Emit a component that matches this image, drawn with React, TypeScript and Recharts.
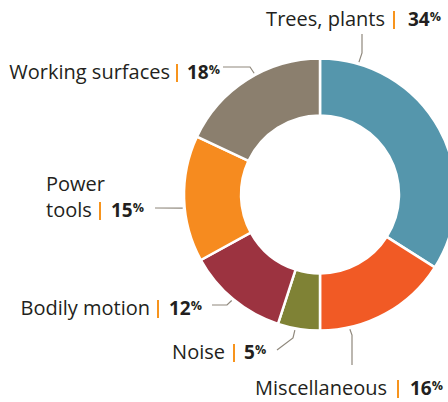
import React from 'react';
import { PieChart, Pie, Cell } from 'recharts';

const CATEGORIES = ['Trees, plants', 'Miscellaneous', 'Noise', 'Bodily motion', 'Power tools', 'Working surfaces'];
const SHARES = [34, 16, 5, 12, 15, 18];
const COLORS = ['#5596ac', '#f15a25', '#7f8235', '#9c3340', '#f68b1f', '#8b7f6e'];

const data = CATEGORIES.map((name, i) => ({ name, value: SHARES[i] }));

const CX = 320;
const CY = 194.5;
const FONT = '"Open Sans", sans-serif';
const TEXT = '#231f20';
const LEADER = '#8f887c';
const BAR = '#f7941d';

// label layout, offsets relative to the pie centre
type Layout = {
  angle: number;
  pts: [number, number][];
  lines: string[];
  nameX: number;
  nameAnchor: 'start' | 'end';
  bar: number;
  num: number;
  base: number;
};
const LABEL_LAYOUT: Layout[] = [
  { angle: 73.6, pts: [[42, -141.5], [42, -160.5]], lines: ['Trees, plants'], nameX: 65, nameAnchor: 'end', bar: 74, num: 88, base: -168.5 },
  { angle: 282.5, pts: [[32, 140.5], [32, 170.5]], lines: ['Miscellaneous'], nameX: 67, nameAnchor: 'end', bar: 78, num: 90, base: 200.5 },
  { angle: 259.5, pts: [[-27, 143.5], [-43, 155.5]], lines: ['Noise'], nameX: -95, nameAnchor: 'end', bar: -86, num: -76, base: 164.5 },
  { angle: 230.2, pts: [[-93, 110.5], [-108, 110.5]], lines: ['Bodily motion'], nameX: -170, nameAnchor: 'end', bar: -162, num: -151, base: 120.5 },
  { angle: 185.7, pts: [[-165, 13.5]], lines: ['Power', 'tools'], nameX: -274, nameAnchor: 'start', bar: -220, num: -209, base: 22.5 },
  { angle: 118.5, pts: [[-70, -127.5], [-97, -127.5]], lines: ['Working surfaces'], nameX: -150, nameAnchor: 'end', bar: -143, num: -133, base: -115.5 },
];

const LINE_GAP = 26;

const renderLabel = (props: any) => {
  const { index, outerRadius } = props;
  const cx = typeof props.cx === 'number' ? props.cx : CX;
  const cy = typeof props.cy === 'number' ? props.cy : CY;
  const L = LABEL_LAYOUT[index];
  const r = (outerRadius ?? 135) + 2;
  const rad = (L.angle * Math.PI) / 180;
  const sx = cx + r * Math.cos(rad);
  const sy = cy - r * Math.sin(rad);
  const d = `M${sx},${sy}` + L.pts.map(([x, y]) => ` L${cx + x},${cy + y}`).join('');
  const base = cy + L.base;
  const n = L.lines.length;
  const x = cx + L.nameX;
  return (
    <g key={`lbl-${index}`}>
      <path d={d} fill="none" stroke={LEADER} strokeWidth={1.2} />
      <text
        x={x}
        y={base - (n - 1) * LINE_GAP}
        textAnchor={L.nameAnchor}
        fontFamily={FONT}
        fontSize={20}
        fill={TEXT}
      >
        {L.lines.map((t, j) => (
          <tspan key={j} x={x} dy={j === 0 ? 0 : LINE_GAP}>
            {t}
          </tspan>
        ))}
      </text>
      <line x1={cx + L.bar} x2={cx + L.bar} y1={base - 15} y2={base + 3} stroke={BAR} strokeWidth={2} />
      <text x={cx + L.num} y={base} fontFamily={FONT} fontSize={19} fontWeight={700} fill={TEXT}>
        {SHARES[index]}
        <tspan fontSize={12.5} dy={-5}>%</tspan>
      </text>
    </g>
  );
};

export default function App() {
  return (
    <div style={{ width: 448, height: 402 }}>
      <style>{`body{margin:0}`}</style>
      <PieChart width={448} height={402} margin={{ top: 0, right: 0, bottom: 0, left: 0 }}>
        <Pie
          data={data}
          dataKey="value"
          nameKey="name"
          cx={CX}
          cy={CY}
          innerRadius={79}
          outerRadius={136}
          startAngle={90}
          endAngle={-270}
          stroke="#ffffff"
          strokeWidth={2.5}
          label={renderLabel}
          labelLine={false}
          isAnimationActive={false}
        >
          {data.map((d, i) => (
            <Cell key={d.name} fill={COLORS[i]} />
          ))}
        </Pie>
      </PieChart>
    </div>
  );
}
